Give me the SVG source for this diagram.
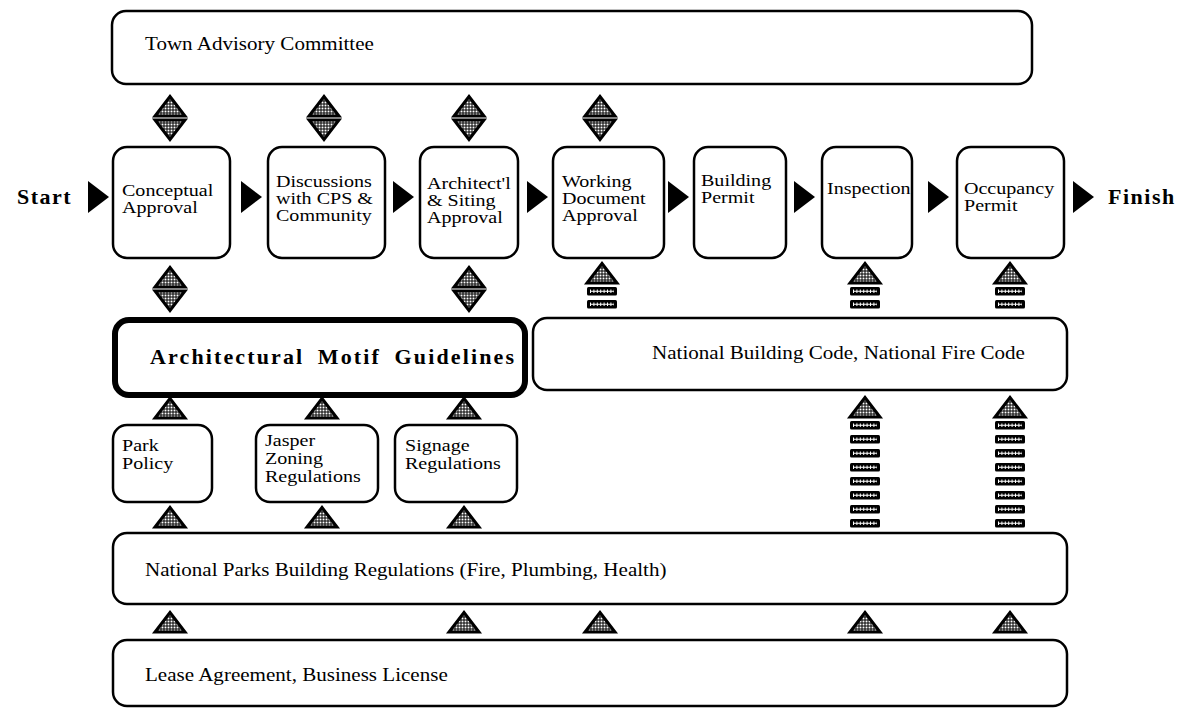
<svg xmlns="http://www.w3.org/2000/svg" xmlns:xlink="http://www.w3.org/1999/xlink" width="1193" height="709" viewBox="0 0 1193 709">
  <style>
    .box { fill: #fff; stroke: #000; stroke-width: 2.5; }
    .thick { fill: #fff; stroke: #000; stroke-width: 6; }
    .lbl { font-family: "Liberation Serif", "Times New Roman", serif; font-size: 17px; fill: #000; }
    .wide { font-size: 18px; }
    .term { font-family: "Liberation Serif", "Times New Roman", serif; font-weight: bold; font-size: 22px; letter-spacing: 1.5px; fill: #000; }
    .motif { font-family: "Liberation Serif", "Times New Roman", serif; font-weight: bold; font-size: 22px; word-spacing: 6px; fill: #000; }
    .tri { fill: url(#mesh); stroke: #000; stroke-width: 3; stroke-linejoin: miter; }
    .head { fill: #000; }
    .bar { fill: #000; }
    .barline { stroke: #fff; stroke-width: 1; }
    .barticks { stroke: #fff; stroke-width: 3.5; stroke-dasharray: 1 2.4; }
  </style>
  <defs>
    <!-- dark mesh fill used inside the link triangles -->
    <pattern id="mesh" width="3" height="3" patternUnits="userSpaceOnUse">
      <rect width="3" height="3" fill="#000"/>
      <rect x="0.5" y="0.5" width="2" height="2" fill="#fff"/>
    </pattern>
    <!-- triangle pointing up, origin at apex -->
    <path id="up" class="tri" d="M0,1.5 L15,21 L-15,21 Z"/>
    <!-- triangle pointing down, origin at top edge centre -->
    <path id="down" class="tri" d="M-15,0 L15,0 L0,19.5 Z"/>
    <!-- one segment of a stacked link -->
    <g id="seg">
      <rect class="bar" x="-15" y="0" width="30" height="8.5" rx="1.5"/>
      <line class="barline" x1="-12" y1="4.25" x2="12" y2="4.25"/>
      <line class="barticks" x1="-12" y1="4.25" x2="12" y2="4.25"/>
    </g>
    <!-- two-way link: up over down -->
    <g id="dual">
      <use xlink:href="#up" href="#up"/>
      <use xlink:href="#down" href="#down" y="25"/>
    </g>
    <!-- short stack: triangle and two segments -->
    <g id="stack2">
      <use xlink:href="#up" href="#up"/>
      <use xlink:href="#seg" href="#seg" y="25"/>
      <use xlink:href="#seg" href="#seg" y="38"/>
    </g>
    <!-- long stack: triangle and eight segments -->
    <g id="stack8">
      <use xlink:href="#up" href="#up"/>
      <use xlink:href="#seg" href="#seg" y="25"/>
      <use xlink:href="#seg" href="#seg" y="39"/>
      <use xlink:href="#seg" href="#seg" y="53"/>
      <use xlink:href="#seg" href="#seg" y="67"/>
      <use xlink:href="#seg" href="#seg" y="81"/>
      <use xlink:href="#seg" href="#seg" y="95"/>
      <use xlink:href="#seg" href="#seg" y="109"/>
      <use xlink:href="#seg" href="#seg" y="123"/>
    </g>
  </defs>

  <rect width="1193" height="709" fill="#fff"/>

  <!-- connectors: flow arrows and links between layers -->
  <g id="connectors">
    <!-- process flow arrows -->
    <polygon class="head" points="88,181 109,197 88,213"/>
    <polygon class="head" points="241,181 262,197 241,213"/>
    <polygon class="head" points="393,181 414,197 393,213"/>
    <polygon class="head" points="527,181 548,197 527,213"/>
    <polygon class="head" points="668,181 689,197 668,213"/>
    <polygon class="head" points="794,181 815,197 794,213"/>
    <polygon class="head" points="928,181 949,197 928,213"/>
    <polygon class="head" points="1073,181 1094,197 1073,213"/>

    <!-- committee to process steps -->
    <use xlink:href="#dual" href="#dual" x="170" y="95"/>
    <use xlink:href="#dual" href="#dual" x="324" y="95"/>
    <use xlink:href="#dual" href="#dual" x="469" y="95"/>
    <use xlink:href="#dual" href="#dual" x="600" y="95"/>

    <!-- guidelines / codes to process steps -->
    <use xlink:href="#dual" href="#dual" x="170" y="266"/>
    <use xlink:href="#dual" href="#dual" x="469" y="266"/>
    <use xlink:href="#stack2" href="#stack2" x="602" y="262"/>
    <use xlink:href="#stack2" href="#stack2" x="865" y="262"/>
    <use xlink:href="#stack2" href="#stack2" x="1010" y="262"/>

    <!-- policies to guidelines -->
    <use xlink:href="#up" href="#up" x="170" y="397"/>
    <use xlink:href="#up" href="#up" x="322" y="397"/>
    <use xlink:href="#up" href="#up" x="464" y="397"/>

    <!-- national parks regulations upward -->
    <use xlink:href="#up" href="#up" x="170" y="506"/>
    <use xlink:href="#up" href="#up" x="322" y="506"/>
    <use xlink:href="#up" href="#up" x="464" y="506"/>
    <use xlink:href="#stack8" href="#stack8" x="865" y="396"/>
    <use xlink:href="#stack8" href="#stack8" x="1010" y="396"/>

    <!-- lease agreement upward -->
    <use xlink:href="#up" href="#up" x="170" y="611"/>
    <use xlink:href="#up" href="#up" x="464" y="611"/>
    <use xlink:href="#up" href="#up" x="600" y="611"/>
    <use xlink:href="#up" href="#up" x="865" y="611"/>
    <use xlink:href="#up" href="#up" x="1010" y="611"/>
  </g>

  <!-- end labels -->
  <g id="start">
    <text class="term" x="17" y="204">Start</text>
  </g>
  <g id="finish">
    <text class="term" x="1108" y="204">Finish</text>
  </g>

  <!-- labels use a slightly widened serif face: translate to anchor, then stretch -->
  <g id="town-advisory">
    <rect class="box" x="112" y="11" width="920" height="73" rx="14"/>
    <text class="lbl wide" transform="translate(145 50) scale(1.17 1)">Town Advisory Committee</text>
  </g>

  <!-- process steps -->
  <g id="conceptual">
    <rect class="box" x="113" y="147" width="117" height="111" rx="14"/>
    <text class="lbl" transform="translate(122 196) scale(1.18 1)">Conceptual</text>
    <text class="lbl" transform="translate(122 213) scale(1.18 1)">Approval</text>
  </g>
  <g id="discussions">
    <rect class="box" x="268" y="147" width="117" height="111" rx="14"/>
    <text class="lbl" transform="translate(276 187) scale(1.18 1)">Discussions</text>
    <text class="lbl" transform="translate(276 204) scale(1.18 1)">with CPS &amp;</text>
    <text class="lbl" transform="translate(276 221) scale(1.18 1)">Community</text>
  </g>
  <g id="architectural">
    <rect class="box" x="420" y="147" width="98" height="111" rx="14"/>
    <text class="lbl" transform="translate(427 189) scale(1.18 1)">Architect'l</text>
    <text class="lbl" transform="translate(427 206) scale(1.18 1)">&amp; Siting</text>
    <text class="lbl" transform="translate(427 223) scale(1.18 1)">Approval</text>
  </g>
  <g id="working-document">
    <rect class="box" x="553" y="147" width="111" height="111" rx="14"/>
    <text class="lbl" transform="translate(562 187) scale(1.18 1)">Working</text>
    <text class="lbl" transform="translate(562 204) scale(1.18 1)">Document</text>
    <text class="lbl" transform="translate(562 221) scale(1.18 1)">Approval</text>
  </g>
  <g id="building-permit">
    <rect class="box" x="694" y="147" width="92" height="111" rx="14"/>
    <text class="lbl" transform="translate(701 186) scale(1.18 1)">Building</text>
    <text class="lbl" transform="translate(701 203) scale(1.18 1)">Permit</text>
  </g>
  <g id="inspection">
    <rect class="box" x="822" y="147" width="90" height="111" rx="14"/>
    <text class="lbl" transform="translate(827 194) scale(1.18 1)">Inspection</text>
  </g>
  <g id="occupancy-permit">
    <rect class="box" x="957" y="147" width="107" height="111" rx="14"/>
    <text class="lbl" transform="translate(964 194) scale(1.18 1)">Occupancy</text>
    <text class="lbl" transform="translate(964 211) scale(1.18 1)">Permit</text>
  </g>

  <g id="motif-guidelines">
    <rect class="thick" x="115" y="320" width="410" height="75" rx="14"/>
    <text class="motif" x="150" y="364" textLength="364" lengthAdjust="spacing">Architectural Motif Guidelines</text>
  </g>
  <g id="building-code">
    <rect class="box" x="533" y="318" width="534" height="72" rx="14"/>
    <text class="lbl wide" transform="translate(652 359) scale(1.17 1)">National Building Code, National Fire Code</text>
  </g>

  <!-- policy boxes -->
  <g id="park-policy">
    <rect class="box" x="113" y="425" width="99" height="77" rx="14"/>
    <text class="lbl" transform="translate(122 451) scale(1.18 1)">Park</text>
    <text class="lbl" transform="translate(122 469) scale(1.18 1)">Policy</text>
  </g>
  <g id="zoning">
    <rect class="box" x="256" y="425" width="122" height="77" rx="14"/>
    <text class="lbl" transform="translate(265 446) scale(1.18 1)">Jasper</text>
    <text class="lbl" transform="translate(265 464) scale(1.18 1)">Zoning</text>
    <text class="lbl" transform="translate(265 482) scale(1.18 1)">Regulations</text>
  </g>
  <g id="signage">
    <rect class="box" x="395" y="425" width="122" height="77" rx="14"/>
    <text class="lbl" transform="translate(405 451) scale(1.18 1)">Signage</text>
    <text class="lbl" transform="translate(405 469) scale(1.18 1)">Regulations</text>
  </g>

  <g id="parks-regulations">
    <rect class="box" x="113" y="533" width="954" height="71" rx="14"/>
    <text class="lbl wide" transform="translate(145 576) scale(1.17 1)">National Parks Building Regulations (Fire, Plumbing, Health)</text>
  </g>
  <g id="lease">
    <rect class="box" x="113" y="640" width="954" height="66" rx="14"/>
    <text class="lbl wide" transform="translate(145 681) scale(1.17 1)">Lease Agreement, Business License</text>
  </g>
</svg>
